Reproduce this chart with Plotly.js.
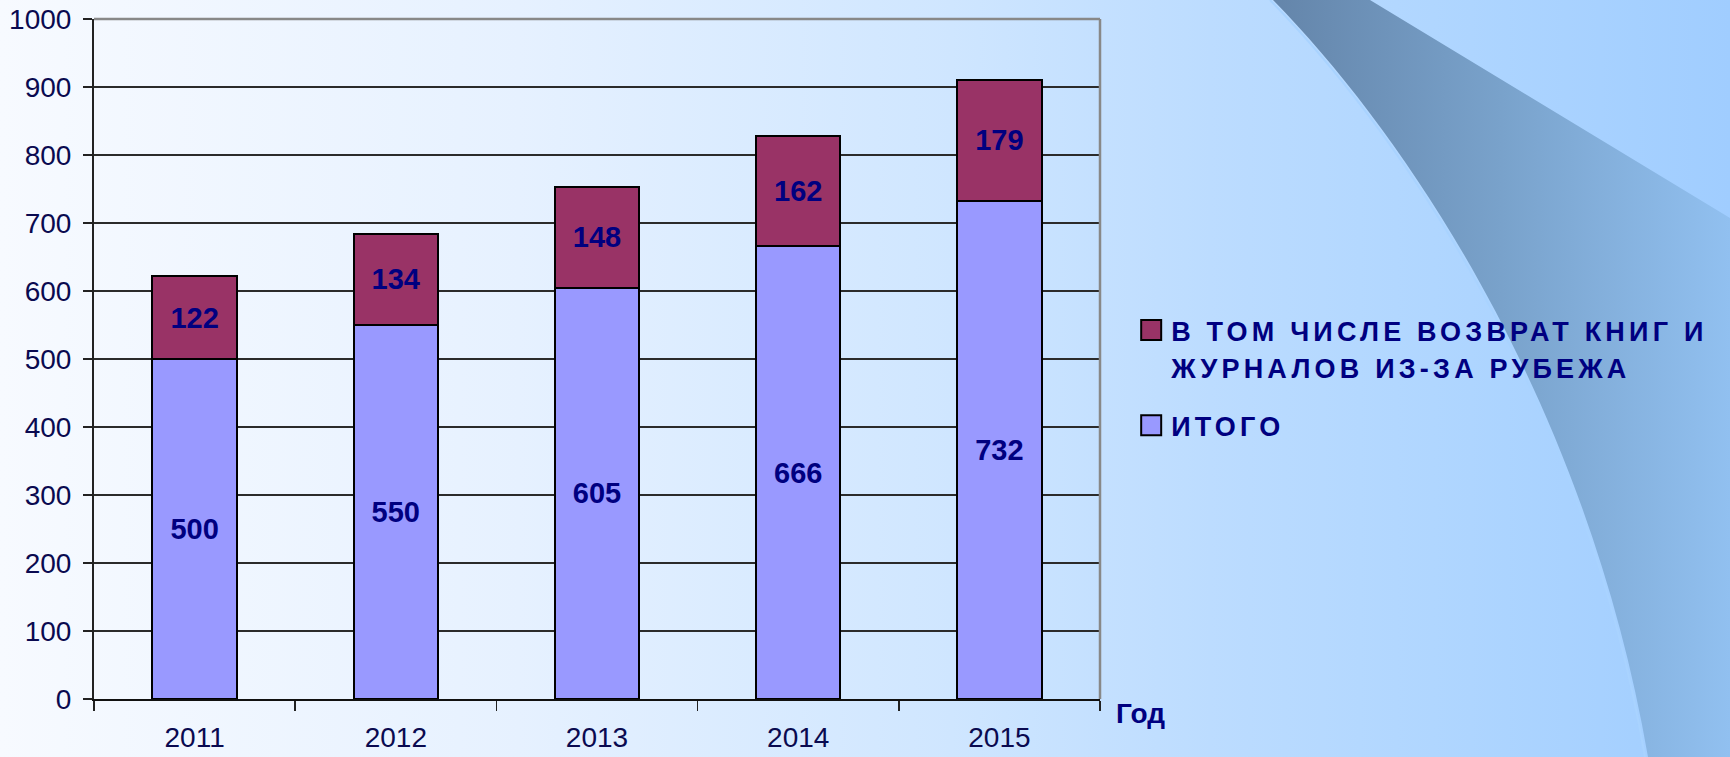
<!DOCTYPE html>
<html>
<head>
<meta charset="utf-8">
<script src="https://cdn.plot.ly/plotly-3.0.1.min.js"></script>
<style>
  html, body { margin: 0; padding: 0; }
  #wrap { position: relative; width: 1730px; height: 757px; overflow: hidden;
    background: linear-gradient(to right, #f7faff 0%, #e6f1ff 30%, #cfe6ff 55%, #bcdcff 70%, #aed5ff 85%, #a0cdff 100%); }
  #bg { position: absolute; left: 0; top: 0; }
  #chart { position: absolute; left: 0; top: 0; width: 1730px; height: 757px; }
  .legendtext { letter-spacing: 4.2px; }
</style>
</head>
<body>
<div id="wrap">
  <svg id="bg" width="1730" height="757" viewBox="0 0 1730 757">
    <defs>
      <linearGradient id="band" x1="1273" y1="0" x2="1730" y2="0" gradientUnits="userSpaceOnUse">
        <stop offset="0" stop-color="#6485aa"/>
        <stop offset="0.5" stop-color="#79a2cb"/>
        <stop offset="1" stop-color="#91c0f0"/>
      </linearGradient>
    </defs>
    <path d="M1273,0 C1420,150 1590,420 1648,757 L1730,757 L1730,218 L1370,0 Z" fill="url(#band)"/>
    <path d="M1270,0 C1417,150 1587,420 1645,757" fill="none" stroke="#a9d3ff" stroke-width="2"/>
  </svg>
  <div id="chart"></div>
</div>
<script>
const years = ['2011', '2012', '2013', '2014', '2015'];
const totalValues = [500, 550, 605, 666, 732];
const returnValues = [122, 134, 148, 162, 179];
const totalName = 'ИТОГО';
const returnName = 'В ТОМ ЧИСЛЕ ВОЗВРАТ КНИГ И<br>ЖУРНАЛОВ ИЗ-ЗА РУБЕЖА';
const axisTitle = 'Год';
const yTicks = [0, 100, 200, 300, 400, 500, 600, 700, 800, 900, 1000];

const FONT = 'Liberation Sans, Arial, sans-serif';
const NAVY = '#000080';

const labelFont = { family: FONT, size: 29, color: NAVY, weight: 'bold' };

const traces = [
  {
    type: 'bar', name: totalName, x: years, y: totalValues, legendgroup: 'total', legendrank: 2,
    text: totalValues.map(String), textposition: 'inside', insidetextanchor: 'middle',
    textfont: labelFont, constraintext: 'none', textangle: 0,
    marker: { color: '#9999ff', line: { color: '#000000', width: 2 } },
    width: 0.42, hoverinfo: 'skip'
  },
  {
    type: 'bar', name: returnName, x: years, y: returnValues, legendgroup: 'return', legendrank: 1,
    text: returnValues.map(String), textposition: 'inside', insidetextanchor: 'middle',
    textfont: labelFont, constraintext: 'none', textangle: 0,
    marker: { color: '#993366', line: { color: '#000000', width: 2 } },
    width: 0.42, hoverinfo: 'skip'
  }
];

const layout = {
  width: 1730, height: 757,
  margin: { l: 94, r: 630, t: 19, b: 58 },
  paper_bgcolor: 'rgba(0,0,0,0)',
  plot_bgcolor: 'rgba(0,0,0,0)',
  barmode: 'stack',
  showlegend: true,
  font: { family: FONT, color: NAVY },
  xaxis: {
    type: 'category', tickson: 'boundaries', ticks: 'outside', ticklen: 10,
    tickwidth: 1.5, tickcolor: '#222', showline: true, linecolor: '#111', linewidth: 2,
    showgrid: false, zeroline: false,
    tickfont: { family: FONT, size: 28, color: '#0a0a50' }, ticklabelstandoff: 12
  },
  yaxis: {
    range: [0, 1000], tickvals: yTicks, ticktext: yTicks.map(String),
    ticks: 'outside', ticklen: 9, tickwidth: 1.5, tickcolor: '#222',
    showline: true, linecolor: '#222', linewidth: 2,
    showgrid: true, gridcolor: '#2b2b2b', gridwidth: 1.5, zeroline: false,
    tickfont: { family: FONT, size: 28, color: '#0a0a50' }, ticklabelstandoff: 6
  },
  legend: {
    x: 1.031, xanchor: 'left', y: 0.578, yanchor: 'top',
    traceorder: 'grouped', valign: 'top', bgcolor: 'rgba(0,0,0,0)',
    font: { family: FONT, size: 27, color: NAVY, weight: 'bold' },
    tracegroupgap: 22
  },
  shapes: [
    { type: 'line', xref: 'paper', yref: 'paper', x0: 0, x1: 1, y0: 1, y1: 1, line: { color: '#888888', width: 2.5 }, layer: 'above' },
    { type: 'line', xref: 'paper', yref: 'paper', x0: 1, x1: 1, y0: 0, y1: 1, line: { color: '#888888', width: 2.5 }, layer: 'above' }
  ],
  annotations: [
    { xref: 'paper', yref: 'paper', x: 1, y: 0, xanchor: 'left', yanchor: 'top',
      xshift: 14, yshift: 3, showarrow: false, text: axisTitle,
      font: { family: FONT, size: 28, color: NAVY, weight: 'bold' } }
  ]
};

Plotly.newPlot('chart', traces, layout, { staticPlot: true, displayModeBar: false }).then(function () {
  document.querySelectorAll('#chart .legendpoints path').forEach(function (p) {
    p.setAttribute('d', 'M10,10H-10V-10H10Z');
    p.style.strokeWidth = '2px';
    p.style.stroke = '#000';
  });
  document.querySelectorAll('#chart .legendtext tspan.line').forEach(function (t) {
    const dy = t.getAttribute('dy');
    if (dy && parseFloat(dy) > 0) t.setAttribute('dy', '1.38em');
  });
});
</script>
</body>
</html>
